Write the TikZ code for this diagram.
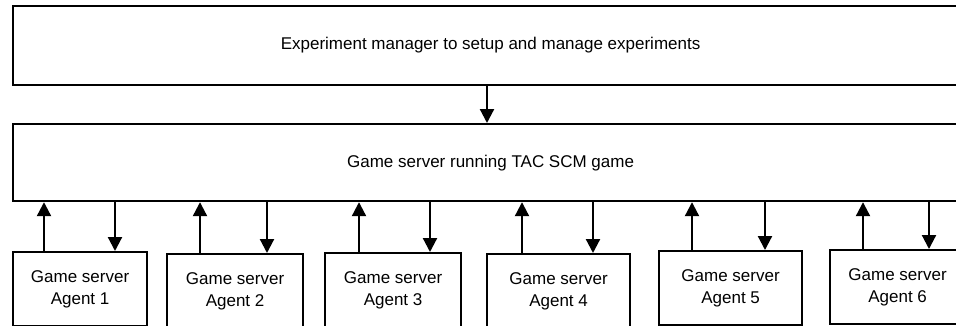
\documentclass[tikz,border=0pt]{standalone}
\usepackage{fontspec}
\setmainfont{Liberation Sans}
\usetikzlibrary{arrows.meta,calc}

\tikzset{
  box/.style={draw=black, line width=2.2pt, rectangle, inner sep=0pt,
    font=\fontsize{17pt}{22pt}\selectfont, align=center},
  agentbox/.style={box, minimum height=74pt, anchor=north west},
  arr/.style={draw=black, line width=2.2pt, -{Triangle[length=14pt,width=14pt]}}
}

\begin{document}
\begin{tikzpicture}[x=1pt,y=-1pt]
  \useasboundingbox (0,0) rectangle (956,325);
  \clip (0,0) rectangle (956,325);
  \fill[white] (0,0) rectangle (956,325);

  % manager and game server
  \node[box, minimum width=955pt, minimum height=79pt, anchor=north west] (mgr) at (12,5)
    {Experiment manager to setup and manage experiments};
  \node[box, minimum width=955pt, minimum height=77pt, anchor=north west] (srv) at (12,123)
    {\raisebox{2.5pt}{Game server running TAC SCM game}};

  % agents
  \node[agentbox, minimum width=134pt] (a1) at (12,251) {Game server\\Agent 1};
  \node[agentbox, minimum width=136pt] (a2) at (166,253) {Game server\\Agent 2};
  \node[agentbox, minimum width=136pt] (a3) at (324,252) {Game server\\Agent 3};
  \node[agentbox, minimum width=143pt] (a4) at (486,253) {Game server\\Agent 4};
  \node[agentbox, minimum width=143pt] (a5) at (658,250) {Game server\\Agent 5};
  \node[agentbox, minimum width=135pt] (a6) at (829,249) {Game server\\Agent 6};

  % manager -> server
  \draw[arr] (mgr.south -| 487,0) -- (srv.north -| 487,0);

  % agent <-> server links
  \draw[arr] (a1.north -| 44,0)  -- (srv.south -| 44,0);
  \draw[arr] (srv.south -| 115,0) -- (a1.north -| 115,0);
  \draw[arr] (a2.north -| 200,0) -- (srv.south -| 200,0);
  \draw[arr] (srv.south -| 267,0) -- (a2.north -| 267,0);
  \draw[arr] (a3.north -| 359,0) -- (srv.south -| 359,0);
  \draw[arr] (srv.south -| 430,0) -- (a3.north -| 430,0);
  \draw[arr] (a4.north -| 522,0) -- (srv.south -| 522,0);
  \draw[arr] (srv.south -| 593,0) -- (a4.north -| 593,0);
  \draw[arr] (a5.north -| 692,0) -- (srv.south -| 692,0);
  \draw[arr] (srv.south -| 765,0) -- (a5.north -| 765,0);
  \draw[arr] (a6.north -| 863,0) -- (srv.south -| 863,0);
  \draw[arr] (srv.south -| 929,0) -- (a6.north -| 929,0);
\end{tikzpicture}
\end{document}
